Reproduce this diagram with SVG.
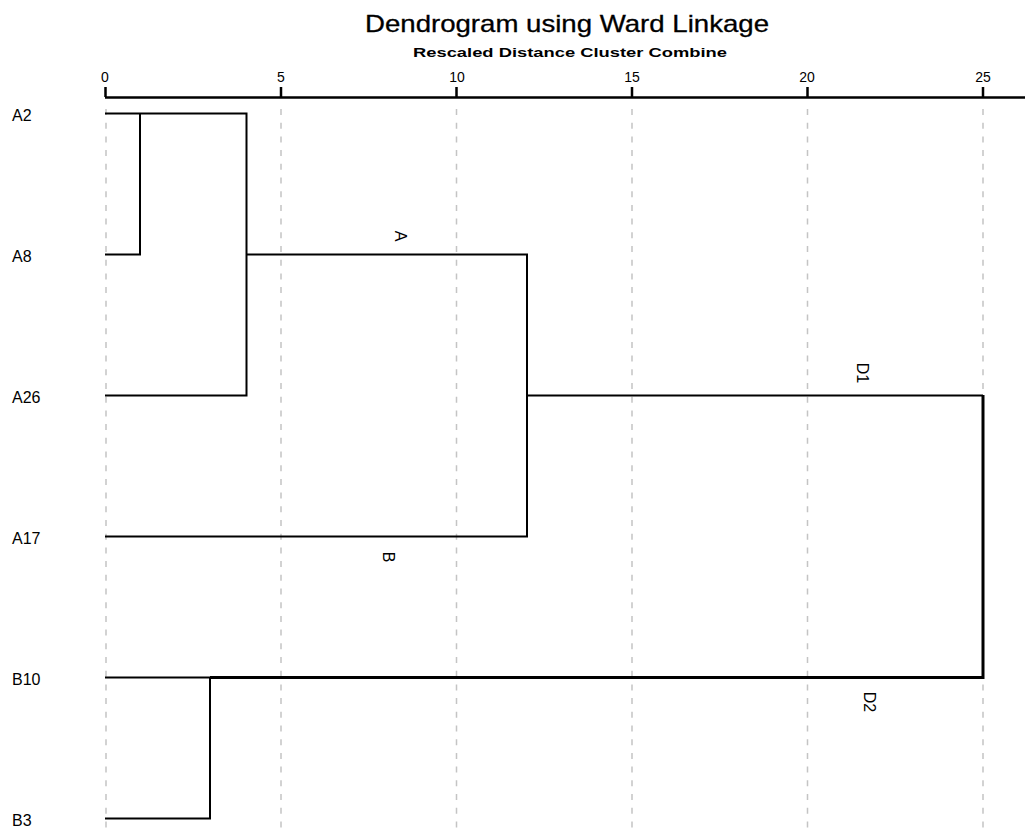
<svg xmlns="http://www.w3.org/2000/svg" width="1025" height="830" viewBox="0 0 1025 830">
<style>
text{font-family:"Liberation Sans",Arial,sans-serif;fill:#000}
.grid{stroke:#c4c4c4;stroke-width:1.5;stroke-dasharray:6 7.7;fill:none}
.axis{stroke:#000;stroke-width:2.5;fill:none}
.tick{font-size:14px;text-anchor:middle}
.leaf{font-size:16px}
.lbl{font-size:16px;text-anchor:middle;dominant-baseline:central}
.dl{stroke:#000;stroke-width:2;fill:none}
.dlt{stroke:#000;stroke-width:3;fill:none}
</style>
<rect width="1025" height="830" fill="#fff"/>
<text x="365" y="32" font-size="24" textLength="404" lengthAdjust="spacingAndGlyphs" stroke="#000" stroke-width="0.3">Dendrogram using Ward Linkage</text>
<text x="413" y="57" font-size="13.5" font-weight="bold" textLength="314" lengthAdjust="spacingAndGlyphs">Rescaled Distance Cluster Combine</text>
<g id="grid">
<line class="grid" x1="106" y1="109" x2="106" y2="830"/>
<line class="grid" x1="281" y1="109" x2="281" y2="830"/>
<line class="grid" x1="456.5" y1="109" x2="456.5" y2="830"/>
<line class="grid" x1="632" y1="109" x2="632" y2="830"/>
<line class="grid" x1="807.5" y1="109" x2="807.5" y2="830"/>
<line class="grid" x1="983" y1="109" x2="983" y2="830"/>
</g>
<g id="axis">
<line class="axis" x1="105" y1="97.5" x2="1025" y2="97.5"/>
<path class="axis" d="M105.5,87V97 M281,87V97 M456.5,87V97 M632,87V97 M807.5,87V97 M983,87V97"/>
<text class="tick" x="105" y="82">0</text>
<text class="tick" x="281" y="82">5</text>
<text class="tick" x="457" y="82">10</text>
<text class="tick" x="632" y="82">15</text>
<text class="tick" x="807" y="82">20</text>
<text class="tick" x="983" y="82">25</text>
</g>
<g id="leaf-A2"><text class="leaf" x="12" y="121">A2</text></g>
<g id="leaf-A8"><text class="leaf" x="12" y="262">A8</text></g>
<g id="leaf-A26"><text class="leaf" x="12" y="403">A26</text></g>
<g id="leaf-A17"><text class="leaf" x="12" y="544">A17</text></g>
<g id="leaf-B10"><text class="leaf" x="12" y="685">B10</text></g>
<g id="leaf-B3"><text class="leaf" x="12" y="826">B3</text></g>
<g id="connectors">
<path class="dl" d="M105,113.5H246.5V395.5H105"/>
<path class="dl" d="M105,254.5H140V113.5"/>
<path class="dl" d="M246.5,254.5H527V536.5H105"/>
<path class="dl" d="M527,395.5H983"/>
<path class="dl" d="M105,677.5H210"/>
<path class="dl" d="M105,818.5H210V677.5"/>
<path class="dlt" d="M210,677.5H983V395"/>
</g>
<g id="labels">
<text class="lbl" transform="translate(400,236) rotate(90)">A</text>
<text class="lbl" transform="translate(388,557) rotate(90)">B</text>
<text class="lbl" transform="translate(862,373) rotate(90)">D1</text>
<text class="lbl" transform="translate(869,702) rotate(90)">D2</text>
</g>
</svg>
